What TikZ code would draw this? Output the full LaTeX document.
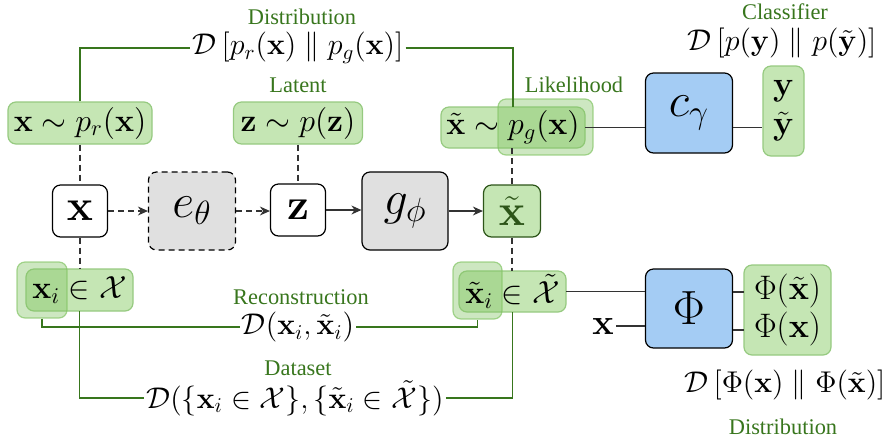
\RequirePackage{fix-cm}
\documentclass[tikz,border=0pt]{standalone}
\usepackage[no-math]{fontspec}
\setmainfont{Liberation Serif}
\usetikzlibrary{arrows.meta}
\pgfdeclarelayer{bg}
\pgfdeclarelayer{mid}
\pgfsetlayers{bg,mid,main}
\definecolor{gfill}{RGB}{197,230,180}
\definecolor{gborder}{RGB}{150,202,128}
\definecolor{ghl}{RGB}{130,196,100}
\definecolor{lblgreen}{RGB}{56,118,29}
\definecolor{bfill}{RGB}{164,204,244}
\definecolor{grayfill}{RGB}{224,224,224}
\definecolor{darkgreen}{RGB}{45,85,25}
\tikzset{
  basebox/.style={draw, rounded corners=4pt, line width=0.6pt, inner sep=0pt, align=center},
  whitebox/.style={basebox, fill=white, font=\fontsize{22}{26}\selectfont},
  graybox/.style={basebox, fill=grayfill, font=\fontsize{24}{28}\selectfont},
  bluebox/.style={basebox, fill=bfill, font=\fontsize{24}{28}\selectfont},
  greenbox/.style={rounded corners=4pt, fill=gfill, draw=gborder, line width=0.6pt, inner sep=0pt, align=center, font=\fontsize{16}{20}\selectfont},
  txtbox/.style={inner sep=0pt, align=center, font=\fontsize{16}{20}\selectfont},
  hlbox/.style={rounded corners=4pt, fill=ghl, fill opacity=0.4, draw=ghl, draw opacity=0.7, line width=0.6pt, inner sep=0pt},
  lbl/.style={text=lblgreen, font=\fontsize{11.2}{13}\selectfont, inner sep=0pt},
  fml/.style={font=\fontsize{15}{18}\selectfont, inner sep=1pt},
  gline/.style={draw=lblgreen, line width=0.6pt},
  bline/.style={draw=black!80, line width=0.6pt},
  dline/.style={draw=black!80, line width=0.6pt, dash pattern=on 3pt off 2pt},
  arr/.style={-{Stealth[length=5pt,width=4.5pt]}},
}
\begin{document}
\begin{tikzpicture}[x=0.5pt,y=-0.5pt]
\useasboundingbox (0,0) rectangle (885,441);
% main chain
\node[whitebox, minimum width=27.5pt, minimum height=26pt] (xbox) at (80,211) {$\mathbf{x}$};
\node[graybox, dashed, dash pattern=on 3pt off 2pt, minimum width=43.5pt, minimum height=39pt] (ebox) at (192,211) {$e_\theta$};
\node[whitebox, minimum width=27.5pt, minimum height=26pt] (zbox) at (298,210) {$\mathbf{z}$};
\node[graybox, minimum width=43pt, minimum height=39pt] (gbox) at (405,211) {$g_\phi$};
\node[whitebox, fill=gfill, draw=darkgreen, text=darkgreen, minimum width=28.5pt, minimum height=26pt] (xtbox) at (512,211) {$\tilde{\mathbf{x}}$};
% distribution boxes
\node[greenbox, minimum width=72pt, minimum height=21pt] (prbox) at (80,123) {$\mathbf{x}\sim p_r(\mathbf{x})$};
\node[greenbox, minimum width=64.5pt, minimum height=21pt] (pzbox) at (298,123) {$\mathbf{z}\sim p(\mathbf{z})$};
% boxes with highlighted parts: fill below, highlight in middle, text on top
\begin{pgfonlayer}{bg}
\node[greenbox, minimum width=72pt, minimum height=20.5pt] (pgbg) at (513,127.5) {};
\node[greenbox, minimum width=53.5pt, minimum height=21pt] (xibg) at (79.5,290) {};
\node[greenbox, minimum width=53.5pt, minimum height=20.5pt] (xtibg) at (512.5,291.5) {};
\end{pgfonlayer}
\begin{pgfonlayer}{mid}
\node[hlbox, minimum width=47.5pt, minimum height=28pt] (pghl) at (545.5,127) {};
\node[hlbox, minimum width=25pt, minimum height=28pt] (xihl) at (42,290) {};
\node[hlbox, minimum width=24.5pt, minimum height=28.5pt] (xtihl) at (477.5,290.5) {};
\end{pgfonlayer}
\node[txtbox, minimum width=72pt, minimum height=20.5pt] (pgbox) at (513,127.5) {$\tilde{\mathbf{x}}\sim p_g(\mathbf{x})$};
\node[txtbox, minimum width=53.5pt, minimum height=21pt] (xibox) at (79.5,290) {$\mathbf{x}_i\in\mathcal{X}$};
\node[txtbox, minimum width=53.5pt, minimum height=20.5pt] (xtibox) at (512.5,291.5) {$\tilde{\mathbf{x}}_i\in\tilde{\mathcal{X}}$};
% classifier
\node[bluebox, minimum width=43.5pt, minimum height=40pt] (cbox) at (689,113) {$c_\gamma$};
\node[greenbox, font=\fontsize{17}{20}\selectfont, minimum width=20.5pt, minimum height=45pt] (ybox) at (783.5,111) {$\mathbf{y}$\\[-0.5pt]$\tilde{\mathbf{y}}$};
% feature extractor
\node[bluebox, minimum width=43.5pt, minimum height=39.5pt] (phibox) at (689,308.5) {$\Phi$};
\node[greenbox, font=\fontsize{17}{20}\selectfont, minimum width=43.5pt, minimum height=45pt] (phiout) at (787.5,310) {$\Phi(\tilde{\mathbf{x}})$\\[-1pt]$\Phi(\mathbf{x})$};
\node[font=\fontsize{18}{20}\selectfont, inner sep=1pt] (xin) at (603,326) {$\mathbf{x}$};
% labels and formulas
\node[lbl] (ldist) at (302,17) {Distribution};
\node[fml] (distF) at (298,48) {$\mathcal{D}\,\bigl[p_r(\mathbf{x})\parallel p_g(\mathbf{x})\bigr]$};
\node[lbl] (llat) at (298,85) {Latent};
\node[lbl] (llik) at (574,85) {Likelihood};
\node[lbl] (lcls) at (785,12) {Classifier};
\node[fml] (clsF) at (782,43) {$\mathcal{D}\,\bigl[p(\mathbf{y})\parallel p(\tilde{\mathbf{y}})\bigr]$};
\node[lbl] (lrec) at (301,297) {Reconstruction};
\node[fml] (recF) at (298,327) {$\mathcal{D}(\mathbf{x}_i,\tilde{\mathbf{x}}_i)$};
\node[lbl] (ldata) at (298,368) {Dataset};
\node[fml] (dataF) at (295,398) {$\mathcal{D}(\{\mathbf{x}_i\in\mathcal{X}\},\{\tilde{\mathbf{x}}_i\in\tilde{\mathcal{X}}\})$};
\node[fml] (phiF) at (785,385) {$\mathcal{D}\,\bigl[\Phi(\mathbf{x})\parallel\Phi(\tilde{\mathbf{x}})\bigr]$};
\node[lbl] (ldist2) at (783,427) {Distribution};
% green connectors
\draw[gline] (prbox.north) |- (distF.west);
\draw[gline] (distF.east) -| (pgbox.north);
\draw[gline] (xihl.south) |- (recF.west);
\draw[gline] (recF.east) -| (xtihl.south);
\draw[gline] (xibox.south) |- (dataF.west);
\draw[gline] (dataF.east) -| (xtibox.south);
% dashed connectors
\draw[dline] (prbox.south) -- (xbox.north);
\draw[dline] (xbox.south) -- (xbox.south |- xibox.north);
\draw[dline] (pzbox.south) -- (pzbox.south |- zbox.north);
\draw[dline] (xtbox.north |- pgbox.south) -- (xtbox.north);
\draw[dline] (xtbox.south) -- (xtbox.south |- xtibox.north);
% arrows
\draw[dline, arr] (xbox.east) -- (ebox.west);
\draw[dline, arr] (ebox.east) -- (zbox.west |- ebox.east);
\draw[bline, arr] (zbox.east) -- (gbox.west |- zbox.east);
\draw[bline, arr] (gbox.east) -- (xtbox.west);
% solid connectors
\draw[bline] (pgbox.east) -- (pgbox.east -| cbox.west);
\draw[bline] (cbox.east |- pgbox.east) -- (ybox.west |- pgbox.east);
\draw[bline] (xtibox.east) -- (xtibox.east -| phibox.west);
\draw[bline] (xin.east) -- (xin.east -| phibox.west);
\coordinate (po1) at (744,292);
\coordinate (po2) at (744,330);
\draw[bline] (phibox.east |- po1) -- (po1);
\draw[bline] (phibox.east |- po2) -- (po2);
\end{tikzpicture}
\end{document}
